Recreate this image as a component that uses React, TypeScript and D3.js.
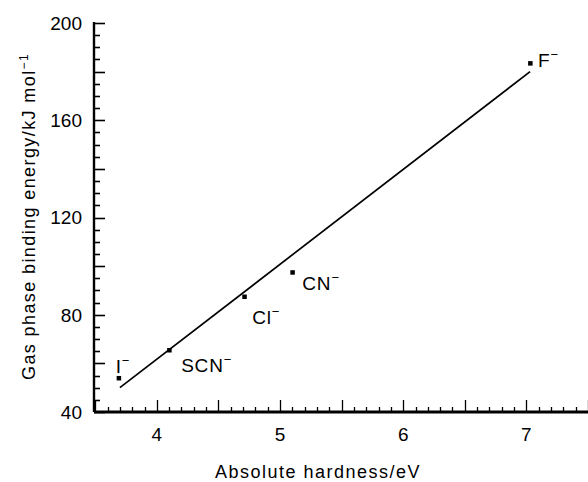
import React from "react";
import * as d3 from "d3";

// anion data: absolute hardness (eV) vs gas phase binding energy (kJ/mol)
const ions = ["I", "SCN", "Cl", "CN", "F"];
const hardness = [3.69, 4.1, 4.71, 5.1, 7.03];
const energy = [54, 65.5, 87.5, 97.5, 183.5];

// least squares line drawn in the figure
const fitX = [3.7, 7.03];
const fitY = [50, 180];

const xTickLabels = [4, 5, 6, 7];
const yTickLabels = [40, 80, 120, 160, 200];

// label offsets in px from the marker
const labelOffset: Record<string, [number, number]> = {
  I: [-3, -5],
  SCN: [12, 22],
  Cl: [8, 27],
  CN: [10, 18],
  F: [8, 4],
};

const W = 588;
const H = 482;
const font = "'Liberation Sans', Arial, Helvetica, sans-serif";

export default function App() {
  const x = d3.scaleLinear().domain([3.49, 7.5]).range([94, 588]);
  const y = d3.scaleLinear().domain([40, 200]).range([412, 23]);

  const xMinor = d3.range(35, 76).map((d) => d / 10);
  const yMinor = d3.range(40, 201, 5);

  const line = d3
    .line<number>()
    .x((d) => x(fitX[d]))
    .y((d) => y(fitY[d]));

  const x0 = Math.round(x(3.49));
  const y0 = Math.round(y(40));

  return (
    <div style={{ position: "absolute", left: 0, top: 0 }}>
      <svg width={W} height={H} style={{ display: "block", background: "#fff" }}>
        <g fontFamily={font} fill="#000">
          {/* y axis */}
          <line x1={x0} x2={x0} y1={y(200) - 1} y2={y0} stroke="#000" strokeWidth={2.4} />
          {yMinor.map((v) => {
            const len = v % 20 === 0 ? 11 : 6;
            const yy = Math.round(y(v)) + 0.5;
            return (
              <line key={"ym" + v} x1={x0} x2={x0 + len} y1={yy} y2={yy} stroke="#000" strokeWidth={1.6} />
            );
          })}
          {yTickLabels.map((v) => (
            <text key={"yl" + v} x={x0 - 12} y={y(v)} dy="0.36em" textAnchor="end" fontSize={19}>
              {v}
            </text>
          ))}

          {/* x axis */}
          <line x1={x0} x2={W} y1={y0} y2={y0} stroke="#000" strokeWidth={2.8} />
          {xMinor.map((v) => {
            const major = Math.round(v * 10) % 5 === 0;
            const len = major ? 12 : 5;
            const xx = Math.round(x(v)) + 0.5;
            return (
              <line key={"xm" + v} x1={xx} x2={xx} y1={y0} y2={y0 - len} stroke="#000" strokeWidth={1.3} />
            );
          })}
          {xTickLabels.map((v) => (
            <text key={"xl" + v} x={x(v)} y={y0 + 29} textAnchor="middle" fontSize={19}>
              {v}
            </text>
          ))}

          {/* fit line */}
          <path d={line([0, 1]) || ""} fill="none" stroke="#000" strokeWidth={1.7} />

          {/* points and labels */}
          {ions.map((name, i) => {
            const px = x(hardness[i]);
            const py = y(energy[i]);
            const [dx, dy] = labelOffset[name];
            return (
              <g key={name}>
                <rect x={px - 2} y={py - 2} width={4.5} height={4.5} fill="#000" />
                <text x={px + dx} y={py + dy} fontSize={19} letterSpacing={0.8}>
                  {name}
                  <tspan dy={-8} fontSize={13}>−</tspan>
                </text>
              </g>
            );
          })}

          {/* axis titles */}
          <text x={(205 + 431) / 2} y={478} textAnchor="middle" fontSize={18} letterSpacing={1.5}>
            Absolute hardness/eV
          </text>
          <text
            transform={`translate(35, ${(53 + 380) / 2}) rotate(-90)`}
            textAnchor="middle"
            fontSize={18}
            letterSpacing={1.4}
          >
            Gas phase binding energy/kJ mol
            <tspan dy={-7} fontSize={12}>−1</tspan>
          </text>
        </g>
      </svg>
    </div>
  );
}
